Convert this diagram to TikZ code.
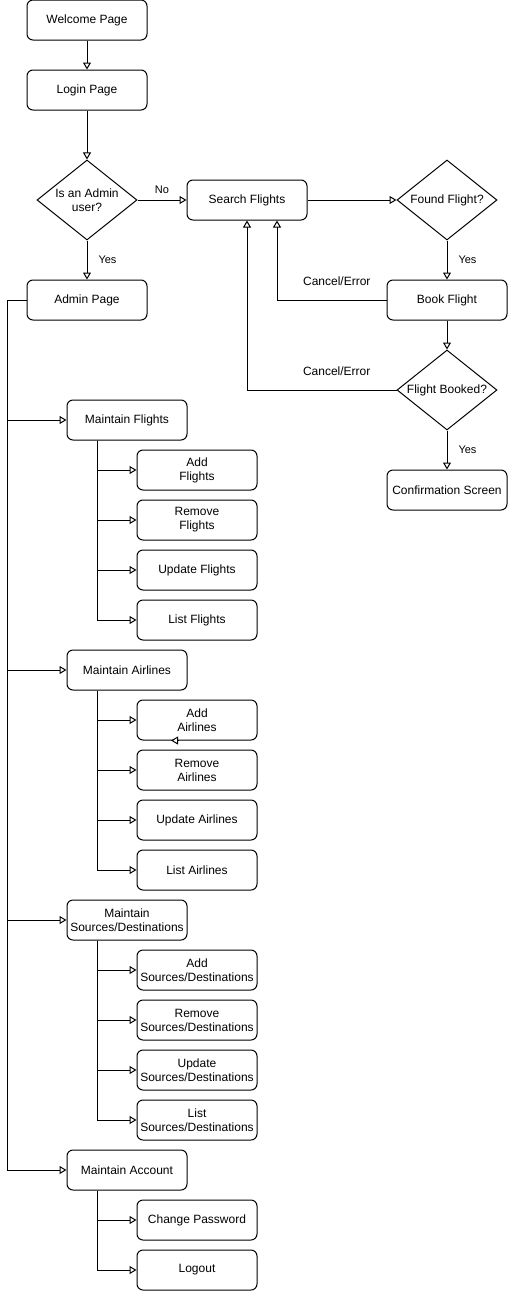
\documentclass[tikz,border=0pt]{standalone}
\usepackage{fontspec}
\setmainfont{Liberation Sans}
\usetikzlibrary{arrows.meta,shapes.geometric,calc}
\begin{document}
\begin{tikzpicture}[x=1pt,y=-1pt,
  font=\fontsize{12}{14}\selectfont,
  box/.style={draw,line width=1pt,rounded corners=6pt,minimum width=120pt,minimum height=40pt,inner sep=0pt,align=center},
  diam/.style={draw,line width=1pt,shape=diamond,minimum width=100pt,minimum height=80pt,inner sep=0pt},
  arr/.style={line width=1pt,-{Triangle[length=7pt,width=8pt,fill=white,line width=1pt]}},
  ln/.style={line width=1pt},
  lbl/.style={font=\fontsize{11}{13}\selectfont,inner sep=0pt},
  clbl/.style={font=\fontsize{12}{14}\selectfont,inner sep=0pt}]
\useasboundingbox (0,0) rectangle (508,1301);

% main path
\node[box] (welcome) at (87,20) {Welcome Page};
\node[box] (login) at (87,90) {Login Page};
\node[diam,label={[align=center,inner sep=0pt]center:Is an Admin\\user?}] (isadmin) at (87,200) {};
\node[box] (admin) at (87,300) {Admin Page};
\node[box] (search) at (247,200) {Search Flights};
\node[diam,label={[inner sep=0pt]center:Found Flight?}] (found) at (447,200) {};
\node[box] (book) at (447,300) {Book Flight};
\node[diam,label={[inner sep=0pt]center:Flight Booked?}] (booked) at (447,390) {};
\node[box] (confirm) at (447,490) {Confirmation Screen};

\draw[arr] (welcome) -- (login);
\draw[arr] (login) -- (isadmin);
\draw[arr] (isadmin) -- node[lbl,pos=0.5,right=11pt] {Yes} (admin);
\draw[arr] (isadmin) -- node[lbl,pos=0.5,above=6pt] {No} (search);
\draw[arr] (search) -- (found);
\draw[arr] (found) -- node[lbl,pos=0.5,right=11pt] {Yes} (book);
\draw[arr] (book) -- (booked);
\draw[arr] (booked) -- node[lbl,pos=0.5,right=11pt] {Yes} (confirm);
\draw[arr] (book.west) -| node[clbl,pos=0.227,above=14pt] {Cancel/Error} ([xshift=30pt]search.south);
\draw[arr] (booked.west) -| node[clbl,pos=0.2,above=14pt] {Cancel/Error} (search.south);

% admin menu
\node[box] (mflights) at (127,420) {Maintain Flights};
\node[box] (addf) at (197,470) {Add\\Flights};
\node[box] (remf) at (197,520) {Remove\\Flights};
\node[box] (updf) at (197,570) {Update Flights};
\node[box] (listf) at (197,620) {List Flights};

\node[box] (mair) at (127,670) {Maintain Airlines};
\node[box] (adda) at (197,720) {Add\\Airlines};
\node[box] (rema) at (197,770) {Remove\\Airlines};
\node[box] (upda) at (197,820) {Update Airlines};
\node[box] (lista) at (197,870) {List Airlines};

\node[box] (msrc) at (127,920) {Maintain\\Sources/Destinations};
\node[box] (adds) at (197,970) {Add\\Sources/Destinations};
\node[box] (rems) at (197,1020) {Remove\\Sources/Destinations};
\node[box] (upds) at (197,1070) {Update\\Sources/Destinations};
\node[box] (lists) at (197,1120) {List\\Sources/Destinations};

\node[box] (macc) at (127,1170) {Maintain Account};
\node[box] (chpw) at (197,1220) {Change Password};
\node[box] (logout) at (197,1270) {Logout};

% admin trunk
\coordinate (trunk) at (7,300);
\draw[ln] (admin.west) -- (trunk);
\foreach \m in {mflights,mair,msrc,macc}
  \draw[arr] (trunk) |- (\m.west);

% submenu branches
\foreach \p/\kids in {mflights/{addf,remf,updf,listf},mair/{adda,rema,upda,lista},msrc/{adds,rems,upds,lists},macc/{chpw,logout}}
  \foreach \k in \kids
    \draw[arr] ([xshift=-30pt]\p.south) |- (\k.west);

% lone arrow tip inside Add Airlines
\coordinate (tipA) at ($(adda.south)+(-18pt,0)$);
\coordinate (tipB) at ($(adda.south)+(-26pt,0)$);
\draw[arr] (tipA) -- (tipB);
\end{tikzpicture}
\end{document}
